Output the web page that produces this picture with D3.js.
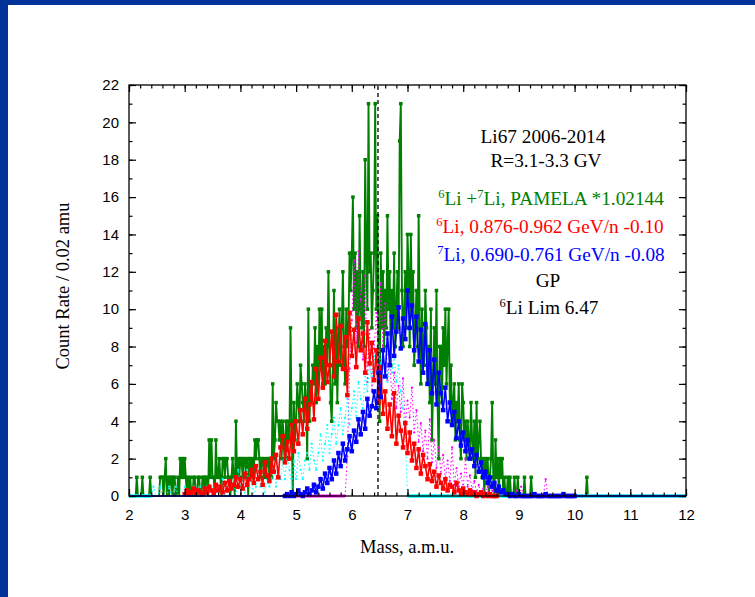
<!DOCTYPE html>
<html>
<head>
<meta charset="utf-8">
<script src="https://d3js.org/d3.v7.min.js"></script>
<style>
body { margin: 0; background: #fff; }
.tick text { font-family: "Liberation Sans", Arial, sans-serif; font-size: 15px; fill: #000; }
.ttl { font-family: "Liberation Serif", "Times New Roman", serif; }
</style>
</head>
<body>
<div id="container"></div>
<script>
/*
 mass axis and count axis ranges, tick values
 */
let massTicks = [2, 3, 4, 5, 6, 7, 8, 9, 10, 11, 12];
let countTicks = [0, 2, 4, 6, 8, 10, 12, 14, 16, 18, 20, 22];
let li6Limit = 6.47;

// PAMELA 6Li+7Li, 0.02 amu bins starting at 2.00
let greenStart = 2.0, greenStep = 0.02;
let greenCounts = [
    0,0,0,0,0,0,0,1,0,0,0,0,1,0,0,0,0,0,0,1,0,0,0,0,0,
    0,0,0,1,1,1,0,1,2,0,1,0,1,1,0,1,1,0,0,1,0,2,1,2,1,
    2,1,0,1,0,1,0,0,1,1,0,0,1,1,0,0,1,1,0,1,1,0,3,1,3,
    1,1,0,3,1,1,2,1,0,2,2,1,2,2,1,1,0,1,2,1,0,4,1,2,1,
    2,2,1,2,2,1,2,0,2,2,1,2,1,3,2,3,3,2,1,2,2,1,2,1,2,
    2,1,2,1,6,2,3,5,4,4,3,4,2,4,3,2,4,2,4,3,9,4,0,5,3,
    4,6,5,4,7,6,5,4,6,5,2,10,4,6,5,7,6,9,5,8,6,10,7,10,6,
    8,6,9,7,12,8,5,4,7,11,6,9,5,8,10,7,9,12,8,6,10,8,9,13,11,
    13,16,10,13,9,12,8,15,10,9,12,8,18,13,10,21,12,13,9,11,13,21,10,15,8,
    4,13,9,12,8,11,9,15,10,12,7,11,9,13,8,10,12,9,19,21,11,8,10,12,9,
    14,12,8,14,10,12,7,9,11,8,15,9,6,10,8,7,11,9,6,8,5,10,3,6,9,
    6,11,5,2,8,8,5,9,7,10,6,8,10,5,7,4,5,6,3,5,4,6,3,2,6,
    5,3,4,2,4,3,2,5,3,2,4,1,5,2,3,4,2,1,2,0,2,1,2,0,1,
    2,5,1,0,3,1,2,0,2,1,2,0,1,0,0,1,0,1,0,0,0,1,0,0,1,
    0,0,0,0,0,1,0,0,0,0,0,1,0,0,0,0,0,0,0,0,0,0,0,0,0,
    0,0,0,0,0,0,0,0,0,0,0,0,0,0,0,0,0,0,0,0,0,0,0,0,0,
    0,0,0,0,0,0,0,0,0,0,0,1,0,0,0,0
];

// 6Li GP, 0.876-0.962 GeV/n
let redStart = 3.0, redStep = 0.04;
let redValues = [
    0.1,0.3,0.1,0.2,0.4,0.1,0.3,0.2,0.1,0.4,
    0.2,0.5,0.3,0.1,0.6,0.3,0.5,0.2,0.7,0.3,
    0.8,0.4,0.6,1.0,0.5,0.9,0.4,1.2,0.6,0.9,
    1.4,0.7,1.6,0.9,1.3,0.6,1.8,1.1,0.8,2.0,
    1.3,2.2,1.0,2.6,3.2,1.8,2.9,2.0,3.8,2.4,
    4.0,2.8,4.6,3.3,5.2,3.6,4.9,6.1,4.1,6.8,
    5.2,7.4,5.8,8.3,6.1,7.0,8.8,6.4,9.7,7.2,
    9.1,6.8,8.5,5.4,9.8,7.5,8.9,6.9,9.5,7.8,
    8.7,6.6,9.3,7.1,8.2,6.2,7.8,5.0,6.9,4.4,
    5.6,3.6,4.9,3.2,5.5,2.8,4.3,3.5,2.6,3.9,
    2.3,3.4,1.9,2.8,1.5,2.5,1.2,2.2,1.6,0.9,
    1.7,0.8,1.3,0.5,1.1,0.7,0.4,0.9,0.3,0.6,
    0.5,0.2,0.7,0.3,0.1,0.4,0.2,0.1,0.3,0.1,
    0.2,0.0,0.1,0.2,0.0,0.1,0.0,0.1,0.0,0.0,
    0.0
];

// 7Li GP, 0.690-0.761 GeV/n
let blueStart = 4.8, blueStep = 0.04;
let blueSpan = [2, 12];
let blueValues = [
    0.0,0.1,0.0,0.2,0.0,0.1,0.3,0.1,0.0,0.2,
    0.4,0.1,0.3,0.6,0.2,0.5,0.9,0.4,1.2,0.7,
    1.5,0.9,1.9,1.2,2.3,1.6,2.8,1.9,2.5,3.2,
    2.4,3.5,2.9,4.1,3.3,4.5,3.6,5.2,4.3,4.8,
    5.6,4.7,6.6,5.3,7.8,6.4,8.7,7.0,9.6,7.5,
    8.8,10.1,7.9,9.5,8.4,11.0,9.0,10.2,7.8,9.6,
    7.2,8.9,6.6,9.2,6.0,7.8,5.5,7.3,4.9,6.6,
    5.5,4.6,5.8,4.0,5.0,3.8,4.5,3.1,4.0,2.7,
    3.4,2.4,3.0,2.0,2.5,1.6,2.2,1.3,1.8,1.0,
    1.3,0.7,1.0,0.5,0.7,0.3,0.5,0.2,0.3,0.1,
    0.1,0.0,0.1,0.0,0.0,0.1,0.0,0.0,0.0,0.0,
    0.0,0.0,0.1,0.0,0.0,0.0,0.0,0.1,0.0,0.0,
    0.0,0.0,0.0,0.0,0.0,0.1,0.0,0.0,0.0,0.0,
    0.0
];

// dotted cyan
let cyanStart = 2.4, cyanStep = 0.04;
let cyanSpan = [2, 12];
let cyanValues = [
    0,0.5,0,0,0.5,0,0,0,0.5,0,
    0,0.5,0,0,0,0.5,0,0,0,0.5,
    0,0,0.5,0,0,0.5,0,0.5,0,0,
    0.5,0,0.9,0,0.5,0,0.5,0.9,0,1.4,
    0.5,0.9,0,1.4,0.5,0.9,0,0.5,1.4,0.5,
    0.9,0,1.4,0.5,0.9,1.9,0.5,1.4,0.9,1.9,
    0.9,2.3,1.4,0.5,1.9,0.9,2.3,1.4,0.9,1.9,
    2.3,1.4,2.8,1.9,1.4,2.3,3.3,1.9,2.8,3.8,
    2.3,3.3,4.2,2.8,3.8,4.7,3.3,4.2,5.2,3.8,
    4.7,5.6,4.2,6.1,5.2,4.7,6.6,5.6,7.0,6.1,
    7.5,6.6,8.0,7.0,7.5,6.6,6.1,7.0,6.6,7.5,
    6.1,7.0,5.6,4.7,3.3,0
];

// dotted magenta
let magentaStart = 5.88, magentaStep = 0.04;
let magentaSpan = [4.8, 12];
let magentaValues = [
    0.0,2.1,6.8,9.4,12.6,8.2,13.1,10.5,7.3,11.8,
    6.1,8.9,5.6,7.9,9.8,6.7,11.4,8.0,10.3,6.2,
    7.5,5.2,6.6,4.7,5.9,4.5,6.3,3.8,5.1,4.2,
    5.8,3.4,4.6,2.9,3.9,2.4,3.5,2.0,4.1,1.8,
    3.0,1.5,2.6,1.2,2.2,0.9,1.9,0.8,2.6,0.6,
    1.5,0.5,1.2,0.4,2.0,0.5,1.1,0.3,0.8,0.2,
    0.6,0,0.4,0.2,0.5,0,0.3,0,0.2,0,
    0,0,0.1,0,0,0,0,0.3,0,0.5,
    0,0,0,0,0,0,0,0,0,0,
    0.9,0,0,0
];

let w = 755;
let h = 597;

let svg = d3.select("div#container").append("svg")
    .attr("width", w).attr("height", h)
    .style("display", "block");

svg.append("rect").attr("width", w).attr("height", h).attr("fill", "#fff");
// slide border
svg.append("rect").attr("x", 0).attr("y", 0).attr("width", w).attr("height", 5).attr("fill", "#003399");
svg.append("rect").attr("x", 0).attr("y", 0).attr("width", 8).attr("height", h).attr("fill", "#003399");

let x = d3.scaleLinear().domain([2, 12]).range([129, 686]);
let y = d3.scaleLinear().domain([0, 22]).range([496, 85]);

let toPoints = (start, step, vals) => vals.map((v, i) => [start + i * step, v]);
let line = d3.line().x(d => x(d[0])).y(d => y(d[1]));

let plot = svg.append("g");

// zero stretches on both sides of a series' listed values
let baseline = (span, start, end, color, width) => {
    [[span[0], start], [end, span[1]]].forEach(seg => {
        if (seg[1] > seg[0]) {
            plot.append("line")
                .attr("x1", x(seg[0])).attr("x2", x(seg[1]))
                .attr("y1", y(0)).attr("y2", y(0))
                .attr("stroke", color).attr("stroke-width", width);
        }
    });
};

let squares = (pts, color, size) => {
    plot.append("g").selectAll("rect")
        .data(pts).enter().append("rect")
        .attr("x", d => x(d[0]) - size / 2)
        .attr("y", d => y(d[1]) - size / 2)
        .attr("width", size).attr("height", size)
        .attr("fill", color);
};

let dots = (pts, color, r) => {
    plot.append("g").selectAll("circle")
        .data(pts).enter().append("circle")
        .attr("cx", d => x(d[0])).attr("cy", d => y(d[1]))
        .attr("r", r).attr("fill", color);
};

// green PAMELA histogram
let greenPts = toPoints(greenStart, greenStep, greenCounts);
plot.append("path").datum(greenPts)
    .attr("d", line).attr("fill", "none")
    .attr("stroke", "#008000").attr("stroke-width", 1.9);
squares(greenPts.filter(d => d[1] > 0), "#008000", 3.5);

// magenta dotted
let magentaPts = toPoints(magentaStart, magentaStep, magentaValues);
baseline(magentaSpan, magentaStart, magentaPts[magentaPts.length - 1][0], "#ff00ff", 3);
plot.append("path").datum(magentaPts)
    .attr("d", line).attr("fill", "none")
    .attr("stroke", "#ff00ff").attr("stroke-width", 1)
    .attr("stroke-dasharray", "1.5,2.5");
dots(magentaPts, "#ff00ff", 1.1);

// cyan dotted
let cyanPts = toPoints(cyanStart, cyanStep, cyanValues);
baseline(cyanSpan, cyanStart, cyanPts[cyanPts.length - 1][0], "#00ffff", 3.5);
plot.append("path").datum(cyanPts)
    .attr("d", line).attr("fill", "none")
    .attr("stroke", "#00ffff").attr("stroke-width", 1)
    .attr("stroke-dasharray", "1.5,2.5");
dots(cyanPts, "#00ffff", 1.1);

// red 6Li
let redPts = toPoints(redStart, redStep, redValues);
plot.append("path").datum(redPts)
    .attr("d", line).attr("fill", "none")
    .attr("stroke", "#ff0000").attr("stroke-width", 1.6);
squares(redPts, "#ff0000", 4.5);

// blue 7Li
let bluePts = toPoints(blueStart, blueStep, blueValues);
baseline(blueSpan, blueStart, bluePts[bluePts.length - 1][0], "#0000ff", 1.5);
plot.append("path").datum(bluePts)
    .attr("d", line).attr("fill", "none")
    .attr("stroke", "#0000ff").attr("stroke-width", 1.6);
squares(bluePts, "#0000ff", 4.5);

// 6Li limit
plot.append("line")
    .attr("x1", x(li6Limit)).attr("x2", x(li6Limit))
    .attr("y1", y(0)).attr("y2", y(22))
    .attr("stroke", "#000").attr("stroke-width", 1.3)
    .attr("stroke-dasharray", "4,3");

// axes, ticks pointing inward
let minorX = d3.range(20, 121, 2).map(d => d / 10);
let minorY = d3.range(0, 23, 1);

let addAxis = (axis, tx, ty, labels) => {
    let g = svg.append("g").attr("transform", "translate(" + tx + "," + ty + ")").call(axis);
    g.select(".domain").remove();
    g.selectAll(".tick line").attr("stroke", "#000").attr("stroke-width", 1.2);
    if (!labels) g.selectAll(".tick text").remove();
    return g;
};

addAxis(d3.axisBottom(x).tickValues(minorX).tickSize(-3.5).tickFormat(""), 0, 496, false);
addAxis(d3.axisTop(x).tickValues(minorX).tickSize(-3.5).tickFormat(""), 0, 85, false);
addAxis(d3.axisLeft(y).tickValues(minorY).tickSize(-3.5).tickFormat(""), 129, 0, false);
addAxis(d3.axisRight(y).tickValues(minorY).tickSize(-3.5).tickFormat(""), 686, 0, false);

addAxis(d3.axisBottom(x).tickValues(massTicks).tickSize(-7).tickPadding(13).tickFormat(d3.format("d")), 0, 496, true);
addAxis(d3.axisTop(x).tickValues(massTicks).tickSize(-7), 0, 85, false);
addAxis(d3.axisLeft(y).tickValues(countTicks).tickSize(-7).tickPadding(10).tickFormat(d3.format("d")), 129, 0, true);
addAxis(d3.axisRight(y).tickValues(countTicks).tickSize(-7), 686, 0, false);

svg.append("rect")
    .attr("x", 129).attr("y", 85).attr("width", 686 - 129).attr("height", 496 - 85)
    .attr("fill", "none").attr("stroke", "#000").attr("stroke-width", 1.3);

// axis titles
svg.append("text").attr("class", "ttl")
    .attr("transform", "translate(69,286) rotate(-90)")
    .attr("text-anchor", "middle")
    .style("font-size", "18.5px")
    .text("Count Rate / 0.02 amu");
svg.append("text").attr("class", "ttl")
    .attr("x", 407).attr("y", 553)
    .attr("text-anchor", "middle")
    .style("font-size", "18.5px")
    .text("Mass, a.m.u.");

// legend text, superscripts as raised tspans
let legend = svg.append("g").attr("class", "ttl").style("font-size", "19.3px");
let legendLine = (cx, by, color, parts) => {
    let t = legend.append("text").attr("x", cx).attr("y", by)
        .attr("text-anchor", "middle").attr("fill", color);
    let shift = 0;
    parts.forEach(p => {
        if (p.sup) {
            t.append("tspan").attr("dy", -7 - shift).style("font-size", "12.5px").text(p.sup);
            shift = -7;
        } else {
            t.append("tspan").attr("dy", -shift).text(p.t);
            shift = 0;
        }
    });
};
legendLine(543, 143, "#000", [{t: "Li67 2006-2014"}]);
legendLine(546, 167, "#000", [{t: "R=3.1-3.3 GV"}]);
legendLine(551, 205, "#008000", [{sup: "6"}, {t: "Li +"}, {sup: "7"}, {t: "Li, PAMELA *1.02144"}]);
legendLine(550, 233, "#ff0000", [{sup: "6"}, {t: "Li, 0.876-0.962 GeV/n -0.10"}]);
legendLine(551, 261, "#0000ff", [{sup: "7"}, {t: "Li, 0.690-0.761 GeV/n -0.08"}]);
legendLine(548, 287, "#000", [{t: "GP"}]);
legendLine(549, 314, "#000", [{sup: "6"}, {t: "Li Lim 6.47"}]);
</script>
</body>
</html>
